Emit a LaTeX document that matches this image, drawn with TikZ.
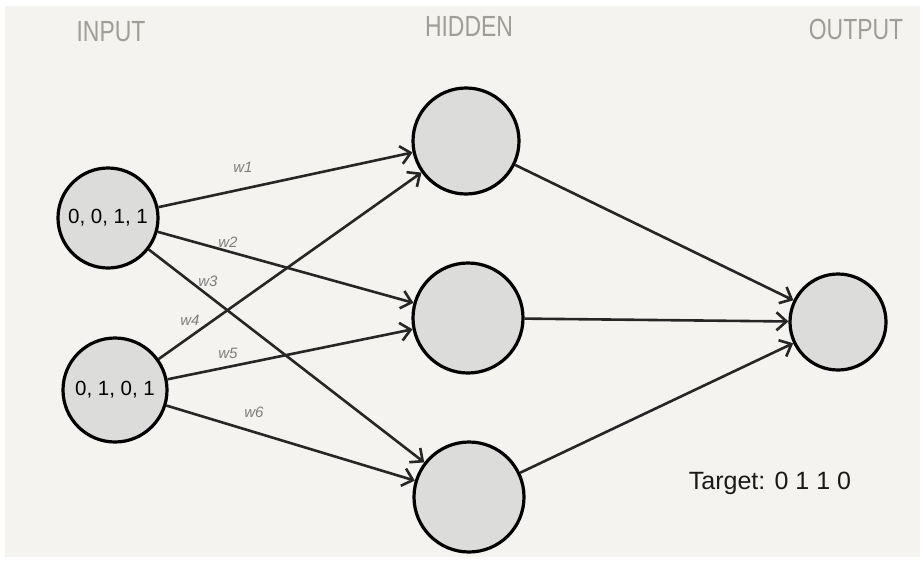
\documentclass[tikz,border=0pt]{standalone}
\usepackage{fontspec}
\setmainfont{Liberation Sans}
\usetikzlibrary{arrows.meta}
\definecolor{paper}{HTML}{F4F3F0}
\definecolor{cellfill}{HTML}{DCDCDA}
\definecolor{headgray}{HTML}{9E9E98}
\definecolor{wgray}{HTML}{7E7E7E}
\tikzset{
  neuron/.style={circle,draw=black,line width=3.2pt,fill=cellfill,inner sep=0pt},
  conn/.style={line width=2.6pt,draw=black!85,-{Straight Barb[length=10pt,width=18pt,line width=2.6pt]}},
  head/.style={text=headgray,font=\fontsize{27}{27}\selectfont,xscale=0.85,yscale=1.08},
  wlab/.style={text=wgray,font=\itshape\fontsize{15}{15}\selectfont},
  vals/.style={font=\fontsize{20.5}{20.5}\selectfont,text=black}
}
\begin{document}
\begin{tikzpicture}[x=1pt,y=-1pt]
\useasboundingbox (0,0) rectangle (923,562);
\fill[white] (0,0) rectangle (923,562);
\fill[paper] (5,6) rectangle (920,557);

\node[head] (hin) at (111,32) {INPUT};
\node[head] (hhid) at (469,26) {HIDDEN};
\node[head] (hout) at (856,29) {OUTPUT};

\node[neuron,minimum size=100pt,vals] (i1) at (108,218) {0, 0, 1, 1};
\node[neuron,minimum size=104pt,vals] (i2) at (115,390) {0, 1, 0, 1};
\node[neuron,minimum size=106pt] (h1) at (466,141) {};
\node[neuron,minimum size=110pt] (h2) at (468,318) {};
\node[neuron,minimum size=110pt] (h3) at (469,497) {};
\node[neuron,minimum size=96pt] (o) at (838,322) {};

\draw[conn] (i1) -- (h1);
\draw[conn] (i1) -- (h2);
\draw[conn] (i1) -- (h3);
\draw[conn] (i2) -- (h1);
\draw[conn] (i2) -- (h2);
\draw[conn] (i2) -- (h3);
\draw[conn] (h1) -- (o);
\draw[conn] (h2) -- (o);
\draw[conn] (h3) -- (o);

\node[wlab] (w1) at (243,167) {w1};
\node[wlab] (w2) at (228,242) {w2};
\node[wlab] (w3) at (208,281) {w3};
\node[wlab] (w4) at (190,320) {w4};
\node[wlab] (w5) at (228,353) {w5};
\node[wlab] (w6) at (254,412) {w6};

\node[font=\fontsize{25}{25}\selectfont,text=black!90] (tgt) at (770,483) {Target: 0 1 1 0};
\end{tikzpicture}
\end{document}
